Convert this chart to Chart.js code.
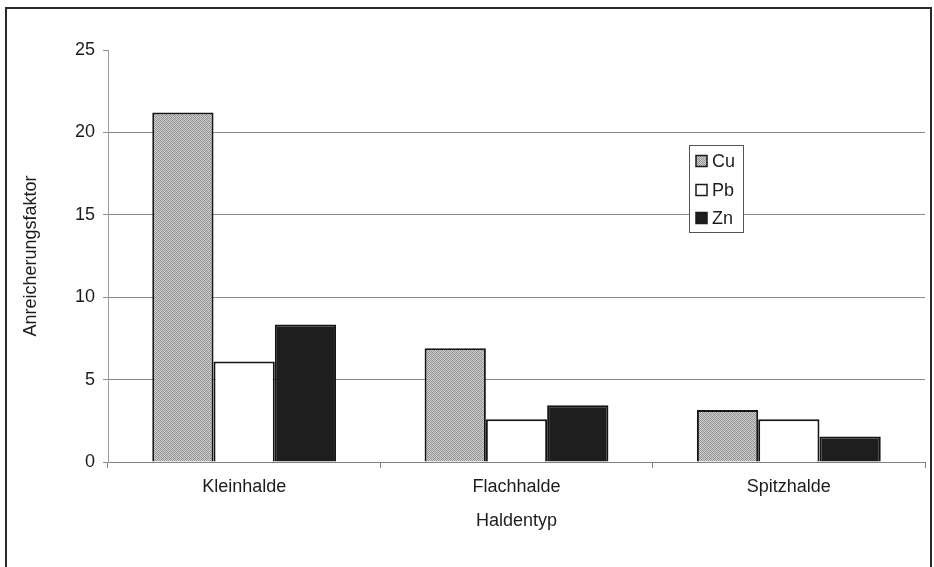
<!DOCTYPE html>
<html>
<head>
<meta charset="utf-8">
<title>Anreicherungsfaktor nach Haldentyp</title>
<script src="https://cdn.jsdelivr.net/npm/chart.js@4/dist/chart.umd.min.js"></script>
<style>
  html, body { margin: 0; padding: 0; background: #ffffff; }
  #wrap { width: 934px; height: 567px; }
</style>
</head>
<body>
<div id="wrap"><canvas id="c" width="934" height="567"></canvas></div>
<script>
// Categories and series
const categories = ['Kleinhalde', 'Flachhalde', 'Spitzhalde'];
const seriesNames = ['Cu', 'Pb', 'Zn'];
const cuValues = [21.2, 6.9, 3.15];
const pbValues = [6.1, 2.6, 2.6];
const znValues = [8.35, 3.45, 1.55];
const yTicks = [0, 5, 10, 15, 20, 25];

const FONT = "'Liberation Sans', Arial, sans-serif";
const TEXT = '#1c1c1c';

// Grainy grey fill for Cu (fixed 4x4 tile of grey levels)
const grainTile = [
  [0x8a, 0xd4, 0x9c, 0xc8],
  [0xcc, 0x98, 0xd8, 0x90],
  [0xa0, 0xc4, 0x8c, 0xd0],
  [0xd6, 0x94, 0xc6, 0x9a]
];
function grainPattern() {
  const p = document.createElement('canvas');
  p.width = 4; p.height = 4;
  const g = p.getContext('2d');
  grainTile.forEach((row, y) => row.forEach((v, x) => {
    g.fillStyle = `rgb(${v},${v},${v})`;
    g.fillRect(x, y, 1, 1);
  }));
  return g.createPattern(p, 'repeat');
}
const cuFill = grainPattern();

// Outer frame and boxed legend
const framePlugin = {
  id: 'frameAndLegend',
  afterDraw(chart) {
    const ctx = chart.ctx;
    ctx.save();
    ctx.strokeStyle = '#2a2a2a';
    ctx.lineWidth = 2;
    ctx.strokeRect(6, 8, 925, 620);

    // legend box
    const bx = 689, by = 145, bw = 54, bh = 87;
    ctx.fillStyle = '#ffffff';
    ctx.fillRect(bx, by, bw, bh);
    ctx.strokeStyle = '#555555';
    ctx.lineWidth = 1;
    ctx.strokeRect(bx + 0.5, by + 0.5, bw, bh);

    const rows = [161, 190, 218];
    ctx.font = '18px ' + FONT;
    ctx.textBaseline = 'middle';
    ctx.textAlign = 'left';
    chart.data.datasets.forEach((ds, i) => {
      const y = rows[i];
      ctx.fillStyle = ds.backgroundColor;
      ctx.fillRect(696, y - 5.5, 11, 11);
      ctx.strokeStyle = '#1a1a1a';
      ctx.lineWidth = 1.5;
      ctx.strokeRect(696, y - 5.5, 11, 11);
      ctx.fillStyle = TEXT;
      ctx.fillText(ds.label, 712, y + 1);
    });
    ctx.restore();
  }
};

new Chart(document.getElementById('c'), {
  type: 'bar',
  data: {
    labels: categories,
    datasets: [
      { label: seriesNames[0], data: cuValues, backgroundColor: cuFill },
      { label: seriesNames[1], data: pbValues, backgroundColor: '#ffffff' },
      { label: seriesNames[2], data: znValues, backgroundColor: '#1e1e1e' }
    ]
  },
  options: {
    responsive: false,
    animation: false,
    layout: { padding: { top: 50, right: 9, left: 0, bottom: 0 } },
    datasets: {
      bar: {
        borderColor: '#151515',
        borderWidth: 2,
        categoryPercentage: 0.675,
        barPercentage: 1.0
      }
    },
    plugins: {
      legend: { display: false },
      tooltip: { enabled: false }
    },
    scales: {
      x: {
        offset: true,
        grid: {
          offset: true,
          drawOnChartArea: false,
          drawTicks: true,
          tickLength: 6,
          tickColor: '#808080'
        },
        border: { color: '#808080', width: 1 },
        ticks: { color: TEXT, font: { family: FONT, size: 18 }, padding: 8 },
        title: {
          display: true,
          text: 'Haldentyp',
          color: TEXT,
          font: { family: FONT, size: 18 },
          padding: { top: 0, bottom: 35 }
        },
        afterFit(scale) { scale.height = 105; }
      },
      y: {
        min: 0,
        max: 25,
        afterBuildTicks(scale) { scale.ticks = yTicks.map(v => ({ value: v })); },
        grid: {
          color: (c) => (c.tick && c.tick.value === 25) ? 'rgba(0,0,0,0)' : '#8a8a8a',
          tickColor: '#8a8a8a',
          tickLength: 5,
          lineWidth: 1
        },
        border: { color: '#9a9a9a', width: 1 },
        ticks: { color: TEXT, font: { family: FONT, size: 18 }, padding: 8 },
        title: {
          display: true,
          text: 'Anreicherungsfaktor',
          color: TEXT,
          font: { family: FONT, size: 18 },
          padding: { top: 20, bottom: 0 }
        },
        afterFit(scale) { scale.width = 108; }
      }
    }
  },
  plugins: [framePlugin]
});
</script>
</body>
</html>
